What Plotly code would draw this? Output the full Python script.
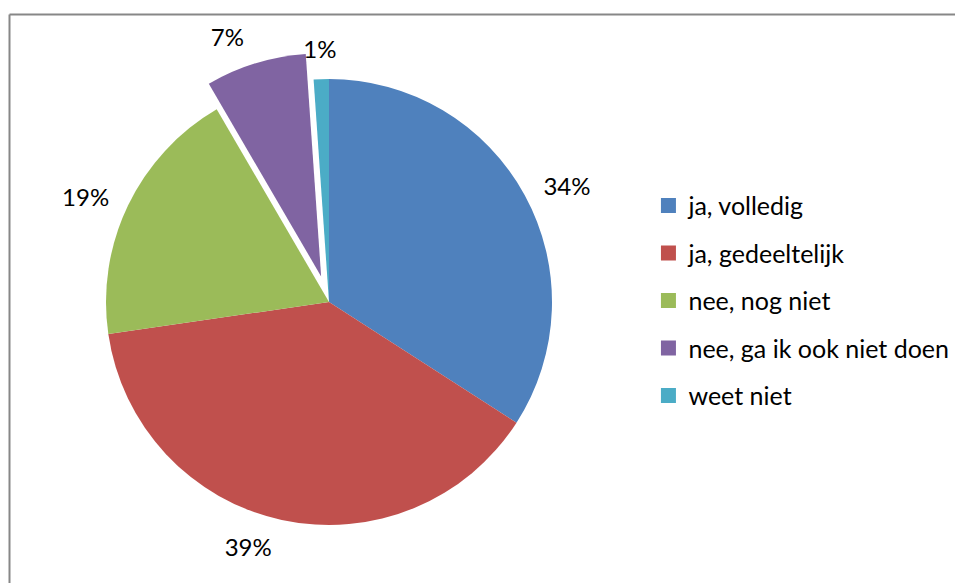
import plotly.graph_objects as go

categories = ["ja, volledig", "ja, gedeeltelijk", "nee, nog niet", "nee, ga ik ook niet doen", "weet niet"]
values = [34.1, 38.6, 18.9, 7.3, 1.1]
colors = ["#4F81BD", "#C0504D", "#9BBB59", "#8064A2", "#4BACC6"]
pulls = [0, 0, 0, 0.12, 0]

W, H = 955, 583
FONT = "Lato"

# pie geometry in pixels (centre and radius)
CX, CY, R = 329, 302, 223
N = len(values)
CLEAR = ["rgba(0,0,0,0)"] * N


def domain_for(cx, cy, r, max_pull):
    half = r * (1 + max_pull)
    return dict(
        x=[(cx - half) / W, (cx + half) / W],
        y=[(H - cy - half) / H, (H - cy + half) / H],
    )


def pie(marker_colors, textpos, pull, dom, hover="skip"):
    return go.Pie(
        labels=categories,
        values=values,
        sort=False,
        direction="clockwise",
        rotation=0,
        pull=pull,
        marker=dict(colors=marker_colors, line=dict(width=0)),
        textposition=textpos,
        texttemplate="%{percent:.0%}",
        textfont=dict(family=FONT, size=24, color="#000000"),
        showlegend=False,
        automargin=False,
        hoverinfo=hover,
        domain=dom,
    )


fig = go.Figure()

# visible pie (no text)
fig.add_trace(pie(colors, ["none"] * N, pulls,
                  domain_for(CX, CY, R, max(pulls)), hover="label+percent"))

# transparent overlay carrying the labels of the first four slices,
# slightly larger so the labels sit a little away from the slices
fig.add_trace(pie(CLEAR, ["outside"] * (N - 1) + ["none"], pulls,
                  domain_for(CX, CY, R + 13, max(pulls))))

# transparent overlay carrying only the smallest slice's label
fig.add_trace(pie(CLEAR, ["none"] * (N - 1) + ["outside"], [0] * N,
                  domain_for(CX + 23, CY, R + 16, 0)))

# legend entries (one group per category for spacing)
for cat, col in zip(categories, colors):
    fig.add_trace(go.Scatter(
        x=[None], y=[None], mode="markers", name=cat,
        legendgroup=cat, showlegend=True,
        marker=dict(symbol="square", size=15, color=col),
    ))

fig.update_layout(
    width=W, height=H,
    autosize=False,
    margin=dict(l=0, r=0, t=0, b=0, pad=0, autoexpand=False),
    paper_bgcolor="white",
    plot_bgcolor="white",
    xaxis=dict(visible=False, domain=[0, 1]),
    yaxis=dict(visible=False, domain=[0, 1]),
    legend=dict(
        x=0.679, y=0.484, xanchor="left", yanchor="middle",
        font=dict(family=FONT, size=25, color="#000000"),
        tracegroupgap=12,
        bgcolor="rgba(0,0,0,0)",
    ),
    shapes=[
        dict(type="line", xref="paper", yref="paper",
             x0=9.5 / W, x1=1, y0=1 - 14.5 / H, y1=1 - 14.5 / H,
             line=dict(color="#878787", width=2), layer="below"),
        dict(type="line", xref="paper", yref="paper",
             x0=9.5 / W, x1=9.5 / W, y0=0, y1=1 - 14.5 / H,
             line=dict(color="#878787", width=2), layer="below"),
    ],
)

fig.write_html(
    "out.html",
    config={"displayModeBar": False},
    post_script="document.body.style.margin='0';document.body.style.overflow='hidden';",
)
